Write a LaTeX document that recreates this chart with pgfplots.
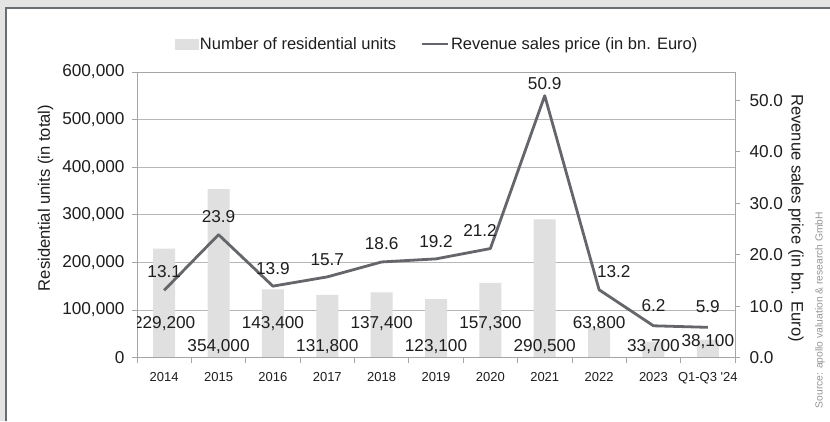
\documentclass[border=0pt]{standalone}
\usepackage{fontspec}
\setmainfont{Liberation Sans}
\usepackage{pgfplots}
\pgfplotsset{compat=1.18}
\definecolor{bggray}{RGB}{228,228,228}
\definecolor{bordercol}{RGB}{105,110,115}
\definecolor{barcol}{RGB}{224,224,224}
\definecolor{linecol}{RGB}{100,102,106}
\definecolor{gridcol}{RGB}{182,182,182}
\definecolor{axiscol}{RGB}{165,165,165}
\definecolor{txt}{RGB}{30,30,30}
\definecolor{srccol}{RGB}{150,150,150}
\newcommand{\bigf}{\fontsize{16.6}{19}\selectfont}
\newcommand{\numf}{\fontsize{17.2}{19}\selectfont}
\newcommand{\smallf}{\fontsize{13}{15}\selectfont}
\begin{document}
\begin{tikzpicture}[x=1pt,y=1pt]
\useasboundingbox (0,0) rectangle (830,421);
\fill[bggray] (0,0) rectangle (830,421);
\fill[white] (5,0) rectangle (830,414);
\draw[bordercol, line width=2pt] (5.5,0) -- (5.5,413) -- (830,413);
\begin{axis}[
  at={(137pt,63.3pt)}, anchor=south west,
  scale only axis, width=598pt, height=285.7pt,
  xmin=-0.5, xmax=10.5, ymin=0, ymax=600000,
  ybar, bar width=22pt,
  tick pos=left,
  xtick={0,...,10},
  xticklabels={2014,2015,2016,2017,2018,2019,2020,2021,2022,2023,Q1-Q3 \textquotesingle24},
  xtick style={draw=none},
  ytick={0,100000,...,600000},
  scaled y ticks=false,
  /pgf/number format/assume math mode=true,
  yticklabel style={font=\numf, text=txt, xshift=-4pt, /pgf/number format/fixed, /pgf/number format/1000 sep={,}},
  ymajorgrids, major grid style={gridcol, line width=0.8pt},
  axis line style={axiscol, line width=0.8pt},
  ytick style={axiscol, line width=0.8pt}, major tick length=5pt, tick align=outside,
  xticklabel style={font=\smallf, text=txt, yshift=-6pt},
]
\addplot[fill=barcol, draw=none] coordinates {
(0,229200) (1,354000) (2,143400) (3,131800) (4,137400) (5,123100)
(6,157300) (7,290500) (8,63800) (9,33700) (10,38100)};
\begin{scope}[every node/.style={font=\numf, text=txt}]
\node at (axis cs:0,72300) {229,200};
\node at (axis cs:1,23500) {354,000};
\node at (axis cs:2,72300) {143,400};
\node at (axis cs:3,23500) {131,800};
\node at (axis cs:4,72300) {137,400};
\node at (axis cs:5,23500) {123,100};
\node at (axis cs:6,72300) {157,300};
\node at (axis cs:7,23500) {290,500};
\node at (axis cs:8,72300) {63,800};
\node at (axis cs:9,23500) {33,700};
\node at (axis cs:10,33600) {38,100};
\end{scope}
\end{axis}
\begin{axis}[
  at={(137pt,63.3pt)}, anchor=south west,
  scale only axis, width=598pt, height=285.7pt,
  xmin=-0.5, xmax=10.5, ymin=0, ymax=55.5,
  axis x line*=bottom, axis y line*=right,
  xtick={-0.5,0.5,...,10.5}, xticklabels={},
  ytick={0,10,...,50},
  /pgf/number format/assume math mode=true,
  yticklabel style={font=\numf, text=txt, xshift=6pt, /pgf/number format/fixed, /pgf/number format/fixed zerofill, /pgf/number format/precision=1},
  tick align=outside, major tick length=5pt,
  axis line style={axiscol, line width=0.8pt},
  tick style={axiscol, line width=0.8pt},
  legend style={at={(0.5,1)}, anchor=center, yshift=28pt, xshift=1pt, draw=none, fill=none,
    font=\fontsize{16.5}{19}\selectfont, text=txt, legend columns=2,
    /tikz/every even column/.append style={column sep=22pt}},
  legend cell align=left,
]
\addlegendimage{legend image code/.code={\fill[barcol] (0pt,-5pt) rectangle (23pt,5pt);}}
\addlegendentry{Number of residential units}
\addplot[linecol, line width=2.8pt, mark=none, line join=round,
  legend image code/.code={\draw[linecol, line width=2.8pt] (0pt,0pt) -- (26pt,0pt);}]
  coordinates {(0,13.1) (1,23.9) (2,13.9) (3,15.7) (4,18.6) (5,19.2)
  (6,21.2) (7,50.9) (8,13.2) (9,6.2) (10,5.9)};
\addlegendentry{Revenue sales price (in bn. Euro)}
\begin{scope}[every node/.style={font=\numf, text=txt}]
\node at (axis cs:0,16.7) {13.1};
\node at (axis cs:1,27.5) {23.9};
\node at (axis cs:2,17.4) {13.9};
\node at (axis cs:3,19.0) {15.7};
\node at (axis cs:4,22.2) {18.6};
\node at (axis cs:5,22.5) {19.2};
\node at (axis cs:5.81,24.8) {21.2};
\node at (axis cs:7,53.3) {50.9};
\node at (axis cs:8.27,16.65) {13.2};
\node at (axis cs:9,10.2) {6.2};
\node at (axis cs:10,9.9) {5.9};
\end{scope}
\end{axis}
\node[font=\bigf, text=txt, rotate=90] at (45.5,223) {Residential units (in total)};
\node[font=\bigf, text=txt, rotate=-90] at (796,203) {Revenue sales price (in bn. Euro)};
\node[font=\fontsize{10.3}{12}\selectfont, text=srccol, rotate=90] at (820,111) {Source: apollo valuation \& research GmbH};
\end{tikzpicture}
\end{document}
